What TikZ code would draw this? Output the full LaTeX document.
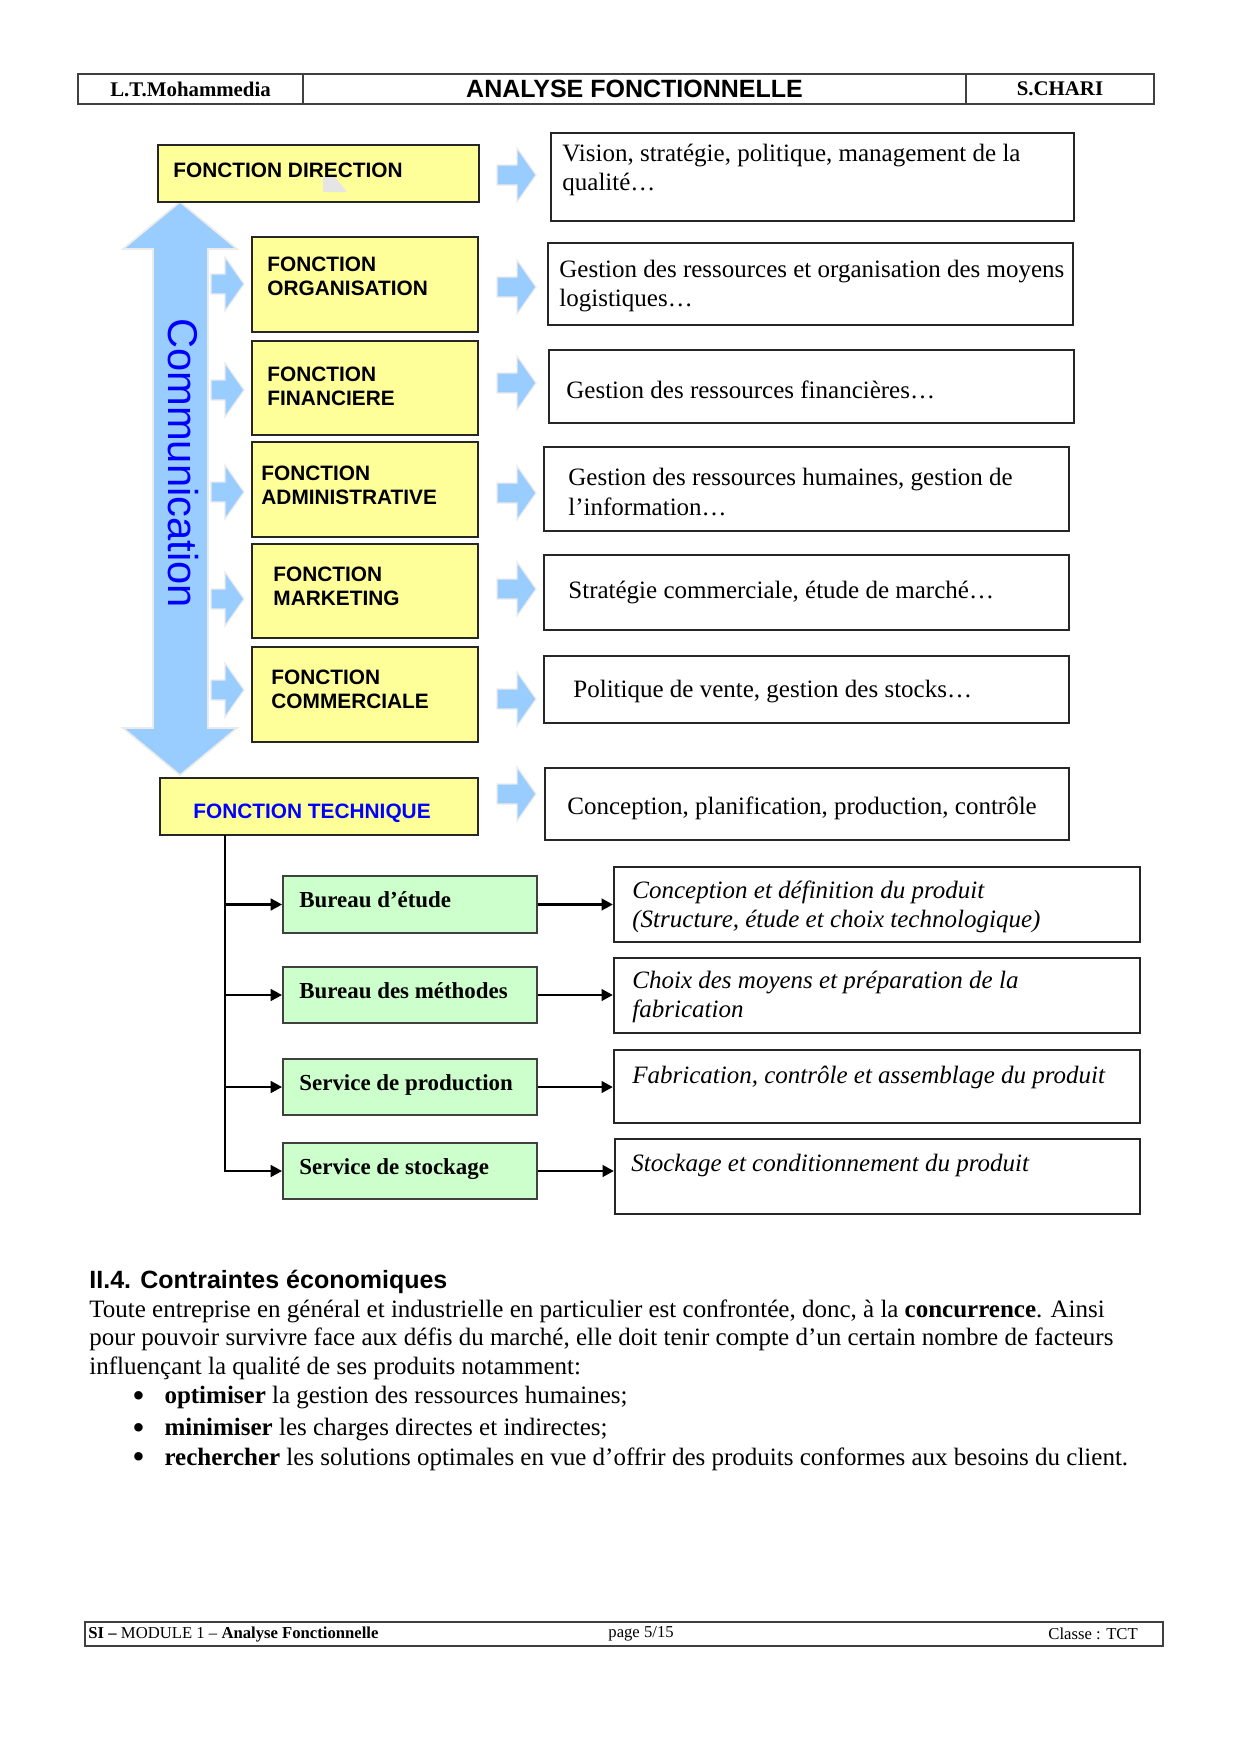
\documentclass[tikz,border=0pt]{standalone}
\usepackage{fontspec}
\setmainfont{Liberation Serif}
\newfontfamily\arialfont{Liberation Sans}
\usetikzlibrary{fit,arrows.meta}

\definecolor{boxyellow}{HTML}{FFFF99}
\definecolor{boxgreen}{HTML}{CCFFCC}
\definecolor{arrowblue}{HTML}{99CCFF}
\definecolor{textblue}{HTML}{0000FF}

\tikzset{
  fbox/.style={draw=black!85, line width=1.2pt, fill=boxyellow, inner sep=0pt},
  dbox/.style={draw=black!85, line width=1pt, inner sep=0pt},
  gbox/.style={draw=black!75, line width=0.8pt, fill=boxgreen, inner sep=0pt},
  hcell/.style={draw=black!75, line width=0.9pt, inner sep=0pt},
  flabel/.style={anchor=west, inner sep=0pt, align=left, font=\arialfont\bfseries\fontsize{10}{11.5}\selectfont},
  dlabel/.style={anchor=west, inner sep=0pt, align=left, font=\fontsize{12}{14}\selectfont},
  ilabel/.style={anchor=west, inner sep=0pt, align=left, font=\itshape\fontsize{12}{14}\selectfont},
  glabel/.style={anchor=west, inner sep=0pt, font=\bfseries\fontsize{11}{13}\selectfont},
  ptext/.style={anchor=west, inner sep=0pt, font=\fontsize{12}{14}\selectfont},
  ftext/.style={anchor=west, inner sep=0pt, font=\fontsize{8}{10}\selectfont},
  link/.style={line width=1.4pt, -{Triangle[length=5.5pt,width=5.5pt]}},
  pics/bluearrow/.style={code={
    \fill[arrowblue, draw=black!8, line width=0.6pt] (0,-10) -- (#1,-10) -- (#1,-27) -- ({#1+19},0) -- (#1,27) -- (#1,10) -- (0,10) -- cycle;}}
}
\newcommand{\bigdot}{\makebox[15.4pt][l]{\raisebox{-1.6pt}{\fontsize{17}{14}\selectfont •}}}

\begin{document}
\begin{tikzpicture}[x=0.48pt, y=-0.48pt]
\useasboundingbox (0,0) rectangle (1240,1754);

% header
\node[hcell, fit={(78,74) (303,104)}] (school) {};
\node[hcell, fit={(303,74) (966,104)}] (title) {};
\node[hcell, fit={(966,74) (1154,104)}] (teacher) {};
\node[font=\bfseries\fontsize{10}{12}\selectfont] at (school.center) {L.T.Mohammedia};
\node[font=\arialfont\bfseries\fontsize{12}{14}\selectfont] at (title.center) {ANALYSE FONCTIONNELLE};
\node[font=\bfseries\fontsize{10}{12}\selectfont] at (teacher.center) {S.CHARI};

% communication arrow
\fill[arrowblue, draw=black!8, line width=0.8pt] (180,202) -- (237,249) -- (208,249) -- (208,728) -- (237,728) -- (180,775) -- (123,728) -- (153,728) -- (153,249) -- (123,249) -- cycle;
\node[rotate=-90, text=textblue, font=\arialfont\fontsize{20}{24}\selectfont, inner sep=0pt] (comm) at (183,463) {Communication};

% fonctions
\node[fbox, fit={(158,145) (479,202)}] (dir) {};
\fill[black!10] (323,177) -- (335,177) -- (347,192) -- (323,192) -- cycle;
\node[fbox, fit={(252,237) (478,332)}] (org) {};
\node[fbox, fit={(252,341) (478,435)}] (fin) {};
\node[fbox, fit={(252,442) (478,537)}] (adm) {};
\node[fbox, fit={(252,544) (478,638)}] (mkt) {};
\node[fbox, fit={(252,647) (478,742)}] (com) {};
\node[fbox, fit={(160,778) (478,835)}] (tec) {};

\node[flabel] (dirlbl) at (173,170) {FONCTION DIRECTION};
\node[flabel] (orglbl) at (267,276) {FONCTION\\ORGANISATION};
\node[flabel] (finlbl) at (267,386) {FONCTION\\FINANCIERE};
\node[flabel] (admlbl) at (261,485) {FONCTION\\ADMINISTRATIVE};
\node[flabel] (mktlbl) at (273,586) {FONCTION\\MARKETING};
\node[flabel] (comlbl) at (271,689) {FONCTION\\COMMERCIALE};
\node[flabel, text=textblue] (teclbl) at (193,813) {FONCTION TECHNIQUE};

% small arrows
\pic at (211,284) {bluearrow=14};
\pic at (211,390) {bluearrow=14};
\pic at (211,492) {bluearrow=14};
\pic at (211,599) {bluearrow=14};
\pic at (211,690) {bluearrow=14};

\pic at (497,175) {bluearrow=20};
\pic at (497,287) {bluearrow=20};
\pic at (497,383) {bluearrow=20};
\pic at (497,493) {bluearrow=20};
\pic at (497,589) {bluearrow=20};
\pic at (497,699) {bluearrow=20};
\pic at (497,794) {bluearrow=20};

% descriptions
\node[dbox, fit={(551,133) (1074,221)}] (dvis) {};
\node[dbox, fit={(548,243) (1073,325)}] (dlog) {};
\node[dbox, fit={(549,350) (1074,423)}] (dfin) {};
\node[dbox, fit={(544,447) (1069,531)}] (dhum) {};
\node[dbox, fit={(544,555) (1069,630)}] (dstr) {};
\node[dbox, fit={(544,656) (1069,723)}] (dven) {};
\node[dbox, fit={(545,768) (1069,840)}] (dcon) {};

\node[dlabel] (tvis) at (562,170) {Vision, stratégie, politique, management de la\\qualité…};
\node[dlabel] (tlog) at (559,286) {Gestion des ressources et organisation des moyens\\logistiques…};
\node[dlabel] (tfin) at (566,390) {Gestion des ressources financières…};
\node[dlabel] (thum) at (568,492) {Gestion des ressources humaines, gestion de\\l’information…};
\node[dlabel] (tstr) at (568,592) {Stratégie commerciale, étude de marché…};
\node[dlabel] (tven) at (573,692) {Politique de vente, gestion des stocks…};
\node[dlabel] (tcon) at (567,808) {Conception, planification, production, contrôle};

% fonction technique
\node[gbox, fit={(283,876) (537,933)}] (etude) {};
\node[gbox, fit={(283,967) (537,1023)}] (methodes) {};
\node[gbox, fit={(283,1059) (537,1115)}] (production) {};
\node[gbox, fit={(283,1143) (537,1199)}] (stockage) {};

\node[glabel] at (299,900) {Bureau d’étude};
\node[glabel] at (299,991) {Bureau des méthodes};
\node[glabel] at (299,1085) {Service de production};
\node[glabel] at (299,1169) {Service de stockage};

\node[dbox, fit={(614,867) (1140,942)}] (ietu) {};
\node[dbox, fit={(614,958) (1140,1033)}] (imet) {};
\node[dbox, fit={(614,1050) (1140,1123)}] (ipro) {};
\node[dbox, fit={(615,1139) (1140,1214)}] (isto) {};

\node[ilabel] at (632,907) {Conception et définition du produit\\(Structure, étude et choix technologique)};
\node[ilabel] at (632,997) {Choix des moyens et préparation de la\\fabrication};
\node[ilabel] at (632,1077) {Fabrication, contrôle et assemblage du produit};
\node[ilabel] at (631,1165) {Stockage et conditionnement du produit};

\coordinate (trunk) at (225,835);
\draw[link] (trunk) |- (stockage.west);
\draw[link] (trunk |- etude.west) -- (etude.west);
\draw[link] (trunk |- methodes.west) -- (methodes.west);
\draw[link] (trunk |- production.west) -- (production.west);

\draw[link] (etude.east) -- (etude.east -| ietu.west);
\draw[link] (methodes.east) -- (methodes.east -| imet.west);
\draw[link] (production.east) -- (production.east -| ipro.west);
\draw[link] (stockage.east) -- (stockage.east -| isto.west);

% texte
\node[anchor=west, inner sep=0pt, font=\arialfont\bfseries\fontsize{12}{14}\selectfont] (sect) at (89,1282) {II.4. Contraintes économiques};
\node[ptext] (p1) at (89,1311) {Toute entreprise en général et industrielle en particulier est confrontée, donc, à la \textbf{concurrence}. Ainsi};
\node[ptext] (p2) at (89,1339) {pour pouvoir survivre face aux défis du marché, elle doit tenir compte d’un certain nombre de facteurs};
\node[ptext] (p3) at (89,1368) {influençant la qualité de ses produits notamment:};
\node[ptext] (b1) at (132,1398) {\bigdot\textbf{optimiser} la gestion des ressources humaines;};
\node[ptext] (b2) at (132,1430) {\bigdot\textbf{minimiser} les charges directes et indirectes;};
\node[ptext] (b3) at (132,1459) {\bigdot\textbf{rechercher} les solutions optimales en vue d’offrir des produits conformes aux besoins du client.};

% footer
\node[hcell, fit={(85,1622) (1163,1646)}] (footer) {};
\node[ftext] (fl) at (88,1634) {\textbf{SI –} MODULE 1 – \textbf{Analyse Fonctionnelle}};
\node[ftext] (fm) at (608,1634) {page 5/15};
\node[ftext] (fr) at (1048,1634) {Classe : TCT};
\end{tikzpicture}
\end{document}
